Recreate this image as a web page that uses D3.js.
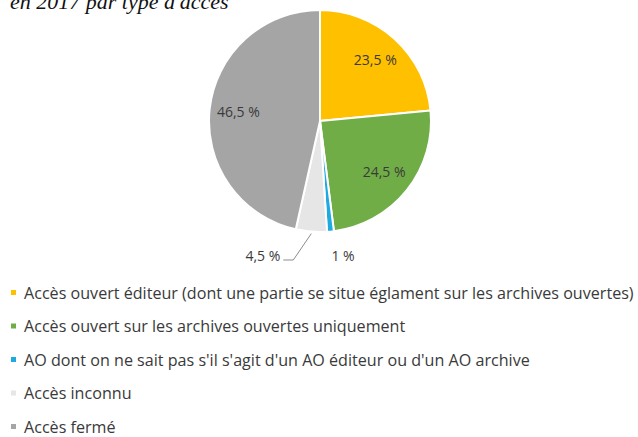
<!DOCTYPE html>
<html>
<head>
<meta charset="utf-8">
<script src="https://cdn.jsdelivr.net/npm/d3@7"></script>
<style>
  body { margin: 0; background: #fff; }
  svg { display: block; }
</style>
</head>
<body>
<div id="chart"></div>
<script>
// data
const categories = [
    "Accès ouvert éditeur (dont une partie se situe églament sur les archives ouvertes)",
    "Accès ouvert sur les archives ouvertes uniquement",
    "AO dont on ne sait pas s'il s'agit d'un AO éditeur ou d'un AO archive",
    "Accès inconnu",
    "Accès fermé"
];
const values = [23.5, 24.5, 1, 4.5, 46.5];
const labels = ["23,5 %", "24,5 %", "1 %", "4,5 %", "46,5 %"];
const colors = ["#ffc000", "#70ad47", "#1fa9e1", "#e6e6e6", "#a5a5a5"];

const width = 638;
const height = 437;
const cx = 320, cy = 121, radius = 111;

const svg = d3.select("#chart")
    .append("svg")
    .attr("width", width)
    .attr("height", height);

// title (cut off at the top, like the scan)
svg.append("text")
    .attr("x", 10)
    .attr("y", 9)
    .attr("font-family", "Liberation Serif, serif")
    .attr("font-style", "italic")
    .attr("font-size", "22px")
    .attr("fill", "#111")
    .text("en 2017 par type d'accès");

const pie = d3.pie().sort(null).value(d => d);
const arcs = pie(values);
const arc = d3.arc().innerRadius(0).outerRadius(radius);

const g = svg.append("g").attr("transform", `translate(${cx},${cy})`);

g.selectAll("path")
    .data(arcs)
    .enter()
    .append("path")
    .attr("d", arc)
    .attr("fill", (d, i) => colors[i])
    .attr("stroke", "#fff")
    .attr("stroke-width", 2);

// labels inside slices
const labelArc = d3.arc().innerRadius(radius * 0.74).outerRadius(radius * 0.74);
const labelFont = "Open Sans, sans-serif";
const labelColor = "#3a3a3a";

g.selectAll("text.inside")
    .data(arcs.filter((d, i) => values[i] > 10))
    .enter()
    .append("text")
    .attr("class", "inside")
    .attr("transform", d => `translate(${labelArc.centroid(d)})`)
    .attr("text-anchor", "middle")
    .attr("dy", "0.35em")
    .attr("font-family", labelFont)
    .attr("font-size", "14px")
    .attr("fill", labelColor)
    .text(d => labels[d.index]);

// small slices: labels outside under the pie
const outerArc = d3.arc().innerRadius(radius).outerRadius(radius);
const outY = radius + 29;

// 1 %
const blue = arcs[2];
g.append("text")
    .attr("x", outerArc.centroid(blue)[0] + 1)
    .attr("y", outY)
    .attr("text-anchor", "start")
    .attr("font-family", labelFont)
    .attr("font-size", "14px")
    .attr("fill", labelColor)
    .text(labels[2]);

// 4,5 % with leader line
const grey = arcs[3];
const p0 = outerArc.centroid(grey);
const leader = [[p0[0], p0[1] + 2], [p0[0] - 18, outY - 1], [p0[0] - 28, outY - 1]];
g.append("path")
    .attr("d", d3.line()(leader))
    .attr("fill", "none")
    .attr("stroke", "#8c8c8c")
    .attr("stroke-width", 1);

g.append("text")
    .attr("x", leader[2][0] - 3)
    .attr("y", outY)
    .attr("text-anchor", "end")
    .attr("font-family", labelFont)
    .attr("font-size", "14px")
    .attr("fill", labelColor)
    .text(labels[3]);

// legend
const legendY = d3.scalePoint()
    .domain(categories)
    .range([293, 427]);

const legend = svg.append("g");

legend.selectAll("rect")
    .data(categories)
    .enter()
    .append("rect")
    .attr("x", 11)
    .attr("y", d => legendY(d) - 3)
    .attr("width", 5)
    .attr("height", 5)
    .attr("fill", (d, i) => colors[i]);

const legendText = legend.selectAll("text")
    .data(categories)
    .enter()
    .append("text")
    .attr("x", 24)
    .attr("y", d => legendY(d))
    .attr("dy", "0.35em")
    .attr("font-family", labelFont)
    .attr("font-size", "14px")
    .attr("fill", labelColor)
    .text(d => d);

// fit the longest line to the width seen in the picture
const longest = legendText.nodes()[0].getComputedTextLength();
const fs = 14 * 610 / longest;
legendText.attr("font-size", fs + "px");
</script>
</body>
</html>
